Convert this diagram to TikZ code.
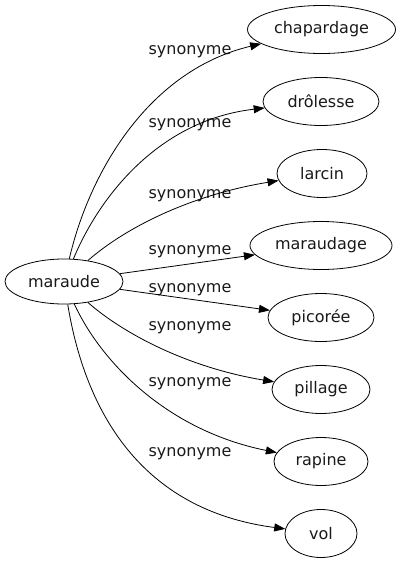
\documentclass[tikz,border=0pt]{standalone}
\usepackage{fontspec}
\setmainfont{DejaVu Sans}
\usetikzlibrary{shapes.geometric,arrows.meta}
\begin{document}
\begin{tikzpicture}[x=1pt,y=-1pt,
  every node/.style={font=\fontsize{16}{18}\selectfont},
  term/.style={draw,ellipse,inner sep=0pt,minimum height=48pt,line width=0.8pt,text=black!90},
  lbl/.style={anchor=base,inner sep=0pt,text=black!90},
  syn/.style={draw,line width=0.8pt,-{Triangle[length=11pt,width=8pt]}}]
\useasboundingbox (0,0) rectangle (400,563);
\node[term,minimum width=118pt,minimum height=45pt] (m) at (64,281.5) {maraude};
\node[term,minimum width=148pt] (n1) at (321.5,29.5) {chapardage};
\node[term,minimum width=116pt] (n2) at (321,101.5) {drôlesse};
\node[term,minimum width=90pt] (n3) at (322,173.5) {larcin};
\node[term,minimum width=142pt] (n4) at (321,245.5) {maraudage};
\node[term,minimum width=106pt] (n5) at (321,317.5) {picorée};
\node[term,minimum width=98pt] (n6) at (321,389.5) {pillage};
\node[term,minimum width=94pt] (n7) at (321,461.5) {rapine};
\node[term,minimum width=72pt] (n8) at (321,533.5) {vol};
\node[lbl] (l1) at (190,54) {synonyme};
\node[lbl] (l2) at (190,127) {synonyme};
\node[lbl] (l3) at (190,198) {synonyme};
\node[lbl] (l4) at (190,254) {synonyme};
\node[lbl] (l5) at (190,292) {synonyme};
\node[lbl] (l6) at (190,330) {synonyme};
\node[lbl] (l7) at (190,386) {synonyme};
\node[lbl] (l8) at (190,456) {synonyme};
\draw[syn] (m) .. controls (90,170) and (150,70) .. (n1);
\draw[syn] (m) .. controls (100,195) and (160,120) .. (n2);
\draw[syn] (m) .. controls (125,228) and (190,195) .. (n3);
\draw[syn] (m) -- (n4);
\draw[syn] (m) -- (n5);
\draw[syn] (m) .. controls (125,335) and (190,368) .. (n6);
\draw[syn] (m) .. controls (100,360) and (165,430) .. (n7);
\draw[syn] (m) .. controls (85,410) and (140,510) .. (n8);
\end{tikzpicture}
\end{document}
